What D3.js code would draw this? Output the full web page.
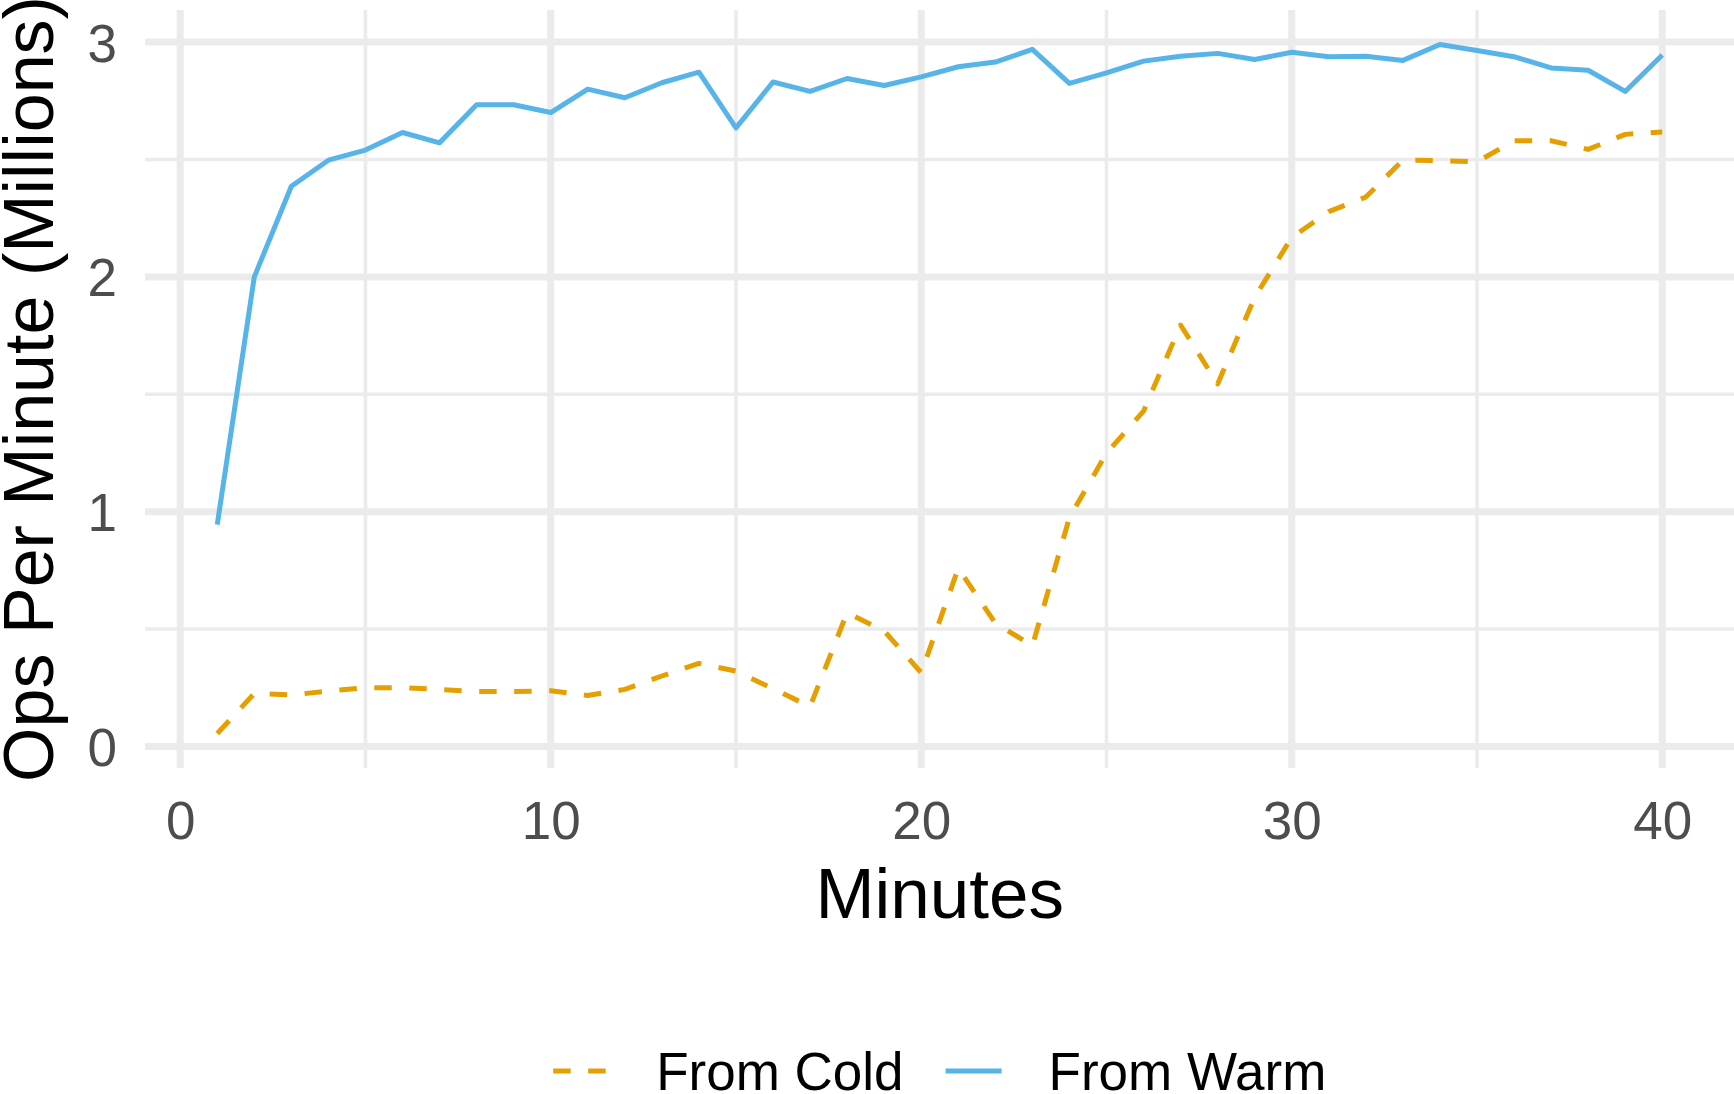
<!DOCTYPE html>
<html lang="en">

<head>
	<meta charset="UTF-8">
	<meta name="viewport" content="width=device-width, initial-scale=1.0">
	<script src="https://cdn.jsdelivr.net/npm/d3@7"></script>
	<title>Ops Per Minute</title>
</head>

<style>
body {
	margin: 0;
	padding: 0;
	background: #fff;
}
svg {
	display: block;
	font-family: 'Liberation Sans', Arial, Helvetica, sans-serif;
}
</style>

<body>
</body>

<script>
	// values
	let minutes = [1, 2, 3, 4, 5, 6, 7, 8, 9, 10,
		11, 12, 13, 14, 15, 16, 17, 18, 19, 20,
		21, 22, 23, 24, 25, 26, 27, 28, 29, 30,
		31, 32, 33, 34, 35, 36, 37, 38, 39, 40]

	let fromCold = [0.055, 0.226, 0.219, 0.236, 0.25, 0.25, 0.243, 0.234, 0.234, 0.237,
		0.217, 0.243, 0.30, 0.354, 0.321, 0.246, 0.170, 0.570, 0.492, 0.314,
		0.759, 0.525, 0.429, 0.975, 1.249, 1.428, 1.795, 1.544, 1.913, 2.168,
		2.278, 2.34, 2.497, 2.495, 2.49, 2.58, 2.58, 2.543, 2.607, 2.617]

	let fromWarm = [0.945, 2.00, 2.386, 2.497, 2.54, 2.615, 2.571, 2.733, 2.733, 2.70,
		2.80, 2.763, 2.827, 2.872, 2.635, 2.83, 2.79, 2.845, 2.815, 2.852,
		2.895, 2.915, 2.969, 2.824, 2.869, 2.919, 2.94, 2.952, 2.926, 2.957,
		2.938, 2.94, 2.922, 2.99, 2.964, 2.938, 2.89, 2.88, 2.79, 2.945]

	let xTicks = [0, 10, 20, 30, 40]
	let xMinor = [5, 15, 25, 35]
	let yTicks = [0, 1, 2, 3]
	let yMinor = [0.5, 1.5, 2.5]

	let seriesNames = ['From Cold', 'From Warm']
	let seriesColors = ['#E69F00', '#56B4E9']
	let seriesDash = ['17.5,17.5', null]

	let width = 1734, height = 1094
	let panel = { left: 145, right: 1734.5, top: 10, bottom: 768 }

	let series = [fromCold, fromWarm].map((vals, i) => ({
		name: seriesNames[i],
		color: seriesColors[i],
		dash: seriesDash[i],
		points: vals.map((v, j) => [minutes[j], v])
	}))

	// ggplot style 5% expansion
	let xExt = d3.extent(minutes)
	let xPad = (xExt[1] - xExt[0]) * 0.05
	let yExt = d3.extent(fromCold.concat(fromWarm))
	let yPad = (yExt[1] - yExt[0]) * 0.05

	let x = d3.scaleLinear()
		.domain([xExt[0] - xPad, xExt[1] + xPad])
		.range([panel.left, panel.right])
	let y = d3.scaleLinear()
		.domain([yExt[0] - yPad, yExt[1] + yPad])
		.range([panel.bottom, panel.top])

	let svg = d3.select('body').append('svg')
		.attr('width', width)
		.attr('height', height)

	let grid = svg.append('g')
	let gridColor = '#EBEBEB'

	// minor grid
	grid.selectAll('.ymin').data(yMinor).join('line')
		.attr('x1', panel.left).attr('x2', panel.right)
		.attr('y1', d => y(d)).attr('y2', d => y(d))
		.attr('stroke', gridColor).attr('stroke-width', 3.6)
	grid.selectAll('.xmin').data(xMinor).join('line')
		.attr('y1', panel.top).attr('y2', panel.bottom)
		.attr('x1', d => x(d)).attr('x2', d => x(d))
		.attr('stroke', gridColor).attr('stroke-width', 3.6)

	// major grid
	grid.selectAll('.ymaj').data(yTicks).join('line')
		.attr('x1', panel.left).attr('x2', panel.right)
		.attr('y1', d => y(d)).attr('y2', d => y(d))
		.attr('stroke', gridColor).attr('stroke-width', 7)
	grid.selectAll('.xmaj').data(xTicks).join('line')
		.attr('y1', panel.top).attr('y2', panel.bottom)
		.attr('x1', d => x(d)).attr('x2', d => x(d))
		.attr('stroke', gridColor).attr('stroke-width', 7)

	// axes, ticks hidden like theme_minimal
	let xAxis = d3.axisBottom(x).tickValues(xTicks).tickFormat(d3.format('d')).tickSize(0).tickPadding(0)
	let gx = svg.append('g')
		.attr('transform', `translate(0,${panel.bottom})`)
		.call(xAxis)
	gx.select('.domain').remove()
	gx.selectAll('text')
		.attr('y', 71)
		.attr('dy', 0)
		.attr('fill', '#4D4D4D')
		.style('font-size', '53px')
		.style('font-family', "'Liberation Sans', Arial, sans-serif")

	let yAxis = d3.axisLeft(y).tickValues(yTicks).tickFormat(d3.format('d')).tickSize(0).tickPadding(0)
	let gy = svg.append('g')
		.attr('transform', `translate(117,0)`)
		.call(yAxis)
	gy.select('.domain').remove()
	gy.selectAll('text')
		.attr('x', 0)
		.attr('dy', '0.36em')
		.attr('fill', '#4D4D4D')
		.style('font-size', '53px')
		.style('font-family', "'Liberation Sans', Arial, sans-serif")

	// lines
	let line = d3.line()
		.x(d => x(d[0]))
		.y(d => y(d[1]))

	svg.append('g').selectAll('path').data(series).join('path')
		.attr('d', d => line(d.points))
		.attr('fill', 'none')
		.attr('stroke', d => d.color)
		.attr('stroke-width', 5)
		.attr('stroke-linejoin', 'round')
		.attr('stroke-dasharray', d => d.dash)

	// axis titles
	let cx = (panel.left + panel.right) / 2
	let cy = (panel.top + panel.bottom) / 2
	svg.append('text')
		.attr('x', cx)
		.attr('y', 918)
		.attr('text-anchor', 'middle')
		.style('font-size', '71px')
		.text('Minutes')
	svg.append('text')
		.attr('transform', `translate(53,${cy}) rotate(-90)`)
		.attr('text-anchor', 'middle')
		.style('font-size', '70px')
		.text('Ops Per Minute (Millions)')

	// legend at bottom, centred on panel
	let keyW = 56, keyGap = 47, itemGap = 42
	let legend = svg.append('g')
	let items = legend.selectAll('g').data(series).join('g')
	items.append('line')
		.attr('x1', 0).attr('x2', keyW)
		.attr('y1', 1071).attr('y2', 1071)
		.attr('stroke', d => d.color)
		.attr('stroke-width', 5)
		.attr('stroke-dasharray', d => d.dash)
	items.append('text')
		.attr('x', keyW + keyGap)
		.attr('y', 1090)
		.style('font-size', '53px')
		.text(d => d.name)

	let offs = [], total = 0
	items.each(function (d, i) {
		let w = keyW + keyGap + d3.select(this).select('text').node().getComputedTextLength()
		offs.push(total)
		total += w + (i < series.length - 1 ? itemGap : 0)
	})
	let startX = cx - total / 2
	items.attr('transform', (d, i) => `translate(${startX + offs[i]},0)`)

</script>

</html>
